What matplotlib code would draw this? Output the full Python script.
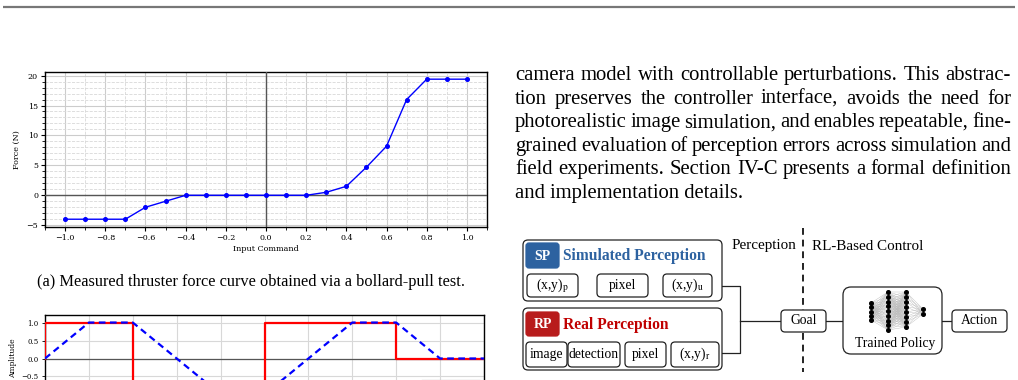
import numpy as np
import matplotlib
matplotlib.use("Agg")
import matplotlib.pyplot as plt
from matplotlib.patches import FancyBboxPatch
from matplotlib.ticker import MultipleLocator

plt.rcParams['mathtext.fontset'] = 'stix'

# thruster bollard-pull data
command = [-1.0, -0.9, -0.8, -0.7, -0.6, -0.5, -0.4, -0.3, -0.2, -0.1, 0.0,
           0.1, 0.2, 0.3, 0.4, 0.5, 0.6, 0.7, 0.8, 0.9, 1.0]
force = [-4.0, -4.0, -4.0, -4.0, -2.0, -1.0, 0.0, 0.0, 0.0, 0.0, 0.0,
         0.0, 0.0, 0.5, 1.5, 4.7, 8.2, 16.0, 19.4, 19.4, 19.4]

# step reference and rate-limited response
t_ref = [0, 0, 2, 5, 8, 10]
ref = [0, 1, -1, 1, 0, 0]
t_resp = [0, 1, 2, 4, 5, 7, 8, 9, 10]
resp = [0, 1, 1, -1, -1, 1, 1, 0, 0]

caption_a = "(a) Measured thruster force curve obtained via a bollard-pull test."
paragraph = [
    "camera model with controllable perturbations. This abstrac-",
    "tion preserves the controller interface, avoids the need for",
    "photorealistic image simulation, and enables repeatable, fine-",
    "grained evaluation of perception errors across simulation and",
    "field experiments. Section IV-C presents a formal definition",
    "and implementation details.",
]

W, H = 1018, 380
fig = plt.figure(figsize=(W / 100, H / 100), dpi=100)


def px_axes(x0, y0, x1, y1):
    return fig.add_axes([x0 / W, 1 - y1 / H, (x1 - x0) / W, (y1 - y0) / H])


serif = 'DejaVu Serif'
times = 'Liberation Serif'

# ---- (a) force curve
ax1 = px_axes(45, 72, 487, 227)
ax1.plot(command, force, '-o', color='blue', lw=1.0, ms=2.6, zorder=4)
ax1.axhline(0, color='#555555', lw=1.0, zorder=3)
ax1.axvline(0, color='#555555', lw=1.0, zorder=3)
ax1.set_xlim(-1.1, 1.1)
ax1.set_ylim(-5.3, 20.6)
ax1.xaxis.set_major_locator(MultipleLocator(0.2))
ax1.xaxis.set_minor_locator(MultipleLocator(0.1))
ax1.yaxis.set_major_locator(MultipleLocator(5))
ax1.yaxis.set_minor_locator(MultipleLocator(1))
ax1.grid(which='major', color='#cccccc', lw=0.8, ls='-')
ax1.grid(which='minor', color='#d8d8d8', lw=0.6, ls='--')
ax1.set_axisbelow(True)
ax1.tick_params(which='major', length=3, width=0.8, labelsize=5.8, pad=2)
ax1.tick_params(which='minor', length=2, width=0.6)
for lab in ax1.get_xticklabels() + ax1.get_yticklabels():
    lab.set_family(serif)
ax1.set_xlabel("Input Command", fontsize=5.8, family=serif, labelpad=2)
ax1.set_ylabel("Force (N)", fontsize=5.8, family=serif, labelpad=4)
for s in ax1.spines.values():
    s.set_linewidth(1.0)

# ---- (b) step response (cut off by page)
ax2 = px_axes(45, 315, 484, 402)
ax2.plot(t_ref, ref, color='red', lw=1.6, drawstyle='steps-post', label='Reference', zorder=3)
ax2.plot(t_resp, resp, color='blue', lw=1.6, ls=(0, (3, 2)), label='Response', zorder=4)
ax2.axhline(0, color='#555555', lw=0.9, zorder=2)
ax2.set_xlim(0, 10)
ax2.set_ylim(-1.21, 1.21)
ax2.xaxis.set_major_locator(MultipleLocator(1))
ax2.yaxis.set_major_locator(MultipleLocator(0.5))
ax2.grid(color='#d8d8d8', lw=0.8)
ax2.set_axisbelow(True)
ax2.tick_params(length=2.5, width=0.6, labelsize=5.0, pad=2, labelbottom=False)
for lab in ax2.get_yticklabels():
    lab.set_family(serif)
ax2.set_yticks([-0.5, 0.0, 0.5, 1.0])
ax2.set_ylabel("Amplitude", fontsize=5.5, family=serif, labelpad=3)
ax2.legend(loc='lower right', bbox_to_anchor=(1.0, -0.03), fontsize=5,
           framealpha=1, edgecolor='#cccccc')
for s in ax2.spines.values():
    s.set_linewidth(1.0)

# ---- page overlay (pixel coords)
ov = fig.add_axes([0, 0, 1, 1], zorder=10)
ov.set_xlim(0, W)
ov.set_ylim(H, 0)
ov.axis('off')
ov.patch.set_alpha(0)

ov.plot([3, 1015], [6.5, 6.5], color='#777777', lw=1.6, solid_capstyle='butt')
ov.text(251, 286, caption_a, family=times, fontsize=11.8, ha='center', va='baseline')

renderer = fig.canvas.get_renderer()


def justify(lines, x0, x1, y0, dy, **kw):
    for i, line in enumerate(lines):
        y = y0 + i * dy
        if i == len(lines) - 1:
            ov.text(x0, y, line, va='baseline', **kw)
            continue
        words = line.split()
        ts = [ov.text(0, y, w, va='baseline', **kw) for w in words]
        widths = [t.get_window_extent(renderer).width for t in ts]
        gap = (x1 - x0 - sum(widths)) / (len(words) - 1)
        x = x0
        for t, w in zip(ts, widths):
            t.set_x(x)
            x += w + gap


justify(paragraph, 515, 1011, 80, 23.6, family=times, fontsize=14.9)


def rbox(x0, y0, x1, y1, r=4, fc='white', ec='#222222', lw=0.9, z=2):
    p = FancyBboxPatch((x0, y0), x1 - x0, y1 - y0,
                       boxstyle="round,pad=0,rounding_size=%g" % r,
                       fc=fc, ec=ec, lw=lw, zorder=z)
    ov.add_patch(p)


def line(xs, ys):
    ov.plot(xs, ys, color='#222222', lw=0.9, zorder=1)


blue_c = '#2d62a0'
red_c = '#c00000'
lbl = dict(family=times, fontsize=9.8, ha='center', va='center', zorder=5)

# simulated perception
rbox(523, 240, 722, 301, r=5)
rbox(526, 243, 559, 268, r=3, fc=blue_c, ec=blue_c)
ov.text(542.5, 256, "SP", color='white', family=times, fontsize=10, weight='bold',
        ha='center', va='center', zorder=5)
ov.text(563, 256, "Simulated Perception", color=blue_c, family=times, fontsize=11.2,
        weight='bold', ha='left', va='center', zorder=5)
sp_boxes = [(527, 578, "(x,y)$_\\mathrm{p}$"), (597, 648, "pixel"), (663, 712, "(x,y)$_\\mathrm{u}$")]
line([578, 597], [285.5, 285.5])
line([648, 663], [285.5, 285.5])
for a, b, s in sp_boxes:
    rbox(a, 274, b, 297, r=4)
    ov.text((a + b) / 2, 285.5, s, **lbl)

# real perception
rbox(523, 308, 722, 370, r=5)
rbox(526, 312, 559, 336, r=3, fc='#b81c1c', ec='#b81c1c')
ov.text(542.5, 324, "RP", color='white', family=times, fontsize=10, weight='bold',
        ha='center', va='center', zorder=5)
ov.text(563, 325, "Real Perception", color=red_c, family=times, fontsize=11.2,
        weight='bold', ha='left', va='center', zorder=5)
rp_boxes = [(526, 567, "image"), (568, 620, "detection"), (625, 666, "pixel"), (671, 719, "(x,y)$_\\mathrm{r}$")]
line([566, 569], [354.5, 354.5])
line([620, 625], [354.5, 354.5])
line([666, 671], [354.5, 354.5])
for a, b, s in rp_boxes:
    rbox(a, 342, b, 367, r=4)
    ov.text((a + b) / 2, 354.5, s, **lbl)

# merge to goal
line([712, 740, 740, 719], [285.5, 285.5, 353, 353])
line([740, 781], [321, 321])
rbox(781, 310, 826, 332, r=4)
ov.text(803.5, 321, "Goal", **lbl)
line([826, 843], [321, 321])

# trained policy
rbox(843, 287, 942, 354, r=8)
ov.text(895, 343, "Trained Policy", **lbl)
layers = [(871, np.linspace(303, 320, 5)), (888, np.linspace(292, 330, 9)),
          (906, np.linspace(292, 327, 8)), (923, np.linspace(309, 314, 2))]
for (xa, ya), (xb, yb) in zip(layers[:-1], layers[1:]):
    for y1 in ya:
        for y2 in yb:
            ov.plot([xa, xb], [y1, y2], color='#bbbbbb', lw=0.3, zorder=3)
for xa, ya in layers:
    ov.plot([xa] * len(ya), ya, 'o', color='black', ms=2.6, zorder=4)
line([942, 952], [321, 321])
rbox(952, 310, 1007, 332, r=4)
ov.text(979.5, 321, "Action", **lbl)

# divider
ov.plot([803, 803], [228, 372], color='#222222', lw=1.4, ls=(0, (3.5, 2.5)), zorder=1)
ov.text(796, 246, "Perception", family=times, fontsize=10.9, ha='right', va='center')
ov.text(812, 246, "RL-Based Control", family=times, fontsize=10.9, ha='left', va='center')

fig.savefig("out.png", dpi=100)
